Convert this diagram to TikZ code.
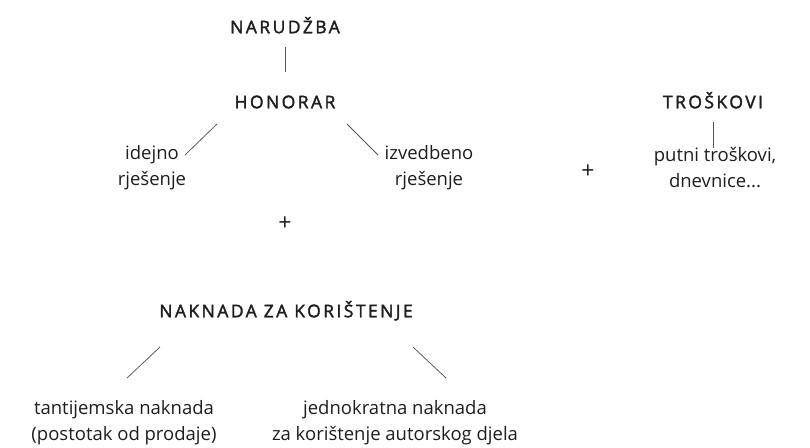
\documentclass[tikz,border=0pt]{standalone}
\usepackage{fontspec}
\setmainfont{Open Sans}
\newfontfamily\capsfont[LetterSpace=14,FakeBold=2]{Open Sans}
\usetikzlibrary{positioning}
\definecolor{ink}{HTML}{1E1E1E}
\definecolor{rule}{HTML}{555555}

\begin{document}
\begin{tikzpicture}[x=1pt, y=-1pt,
  head/.style={font=\capsfont\fontsize{17.5}{19}\selectfont, text=ink,
               inner sep=0pt, text height=12.5pt, text depth=0pt},
  item/.style={align=center, font=\fontsize{18.5}{26}\selectfont, text=ink,
               inner sep=0pt},
  plus/.style={font=\fontsize{23}{24}\selectfont, text=ink, inner sep=0pt},
  link/.style={draw=rule, line width=0.75pt}]
\useasboundingbox (0,0) rectangle (810,447);
% fee part
\node[head] (narudzba) at (285,27) {NARUDŽBA};
\node[head] (honorar) at (285,102) {HONORAR};
\draw[link] ([yshift=-20pt]narudzba.center) -- ([yshift=30pt]honorar.center);
\node[item] (idejno) at (152,168) {idejno\\rješenje};
\node[item] (izvedbeno) at (429,168) {izvedbeno\\rješenje};
\draw[link] ([xshift=-68pt,yshift=-22pt]honorar.center) -- ([xshift=33pt,yshift=13pt]idejno.center);
\draw[link] ([xshift=62pt,yshift=-22pt]honorar.center) -- ([xshift=-51pt,yshift=13pt]izvedbeno.center);
% costs
\node[head] (troskovi) at (713,102) {TROŠKOVI};
\node[item] (putni) at (715,168) {putni troškovi,\\dnevnice...};
\draw[link] ([yshift=-20pt]troskovi.center) -- ([xshift=-2pt,yshift=20pt]putni.center);
\node[plus] (plusa) at (588,172) {+};
\node[plus] (plusb) at (285,224) {+};
% usage fee
\node[head] (naknada) at (286,311) {NAKNADA ZA KORIŠTENJE};
\node[item] (tantijemska) at (124,423) {tantijemska naknada\\(postotak od prodaje)};
\node[item] (jednokratna) at (395,423) {jednokratna naknada\\za korištenje autorskog djela};
\draw[link] ([xshift=-126pt,yshift=-36pt]naknada.center) -- ([xshift=3pt,yshift=45pt]tantijemska.center);
\draw[link] ([xshift=127pt,yshift=-36pt]naknada.center) -- ([xshift=51pt,yshift=45pt]jednokratna.center);
\end{tikzpicture}
\end{document}
